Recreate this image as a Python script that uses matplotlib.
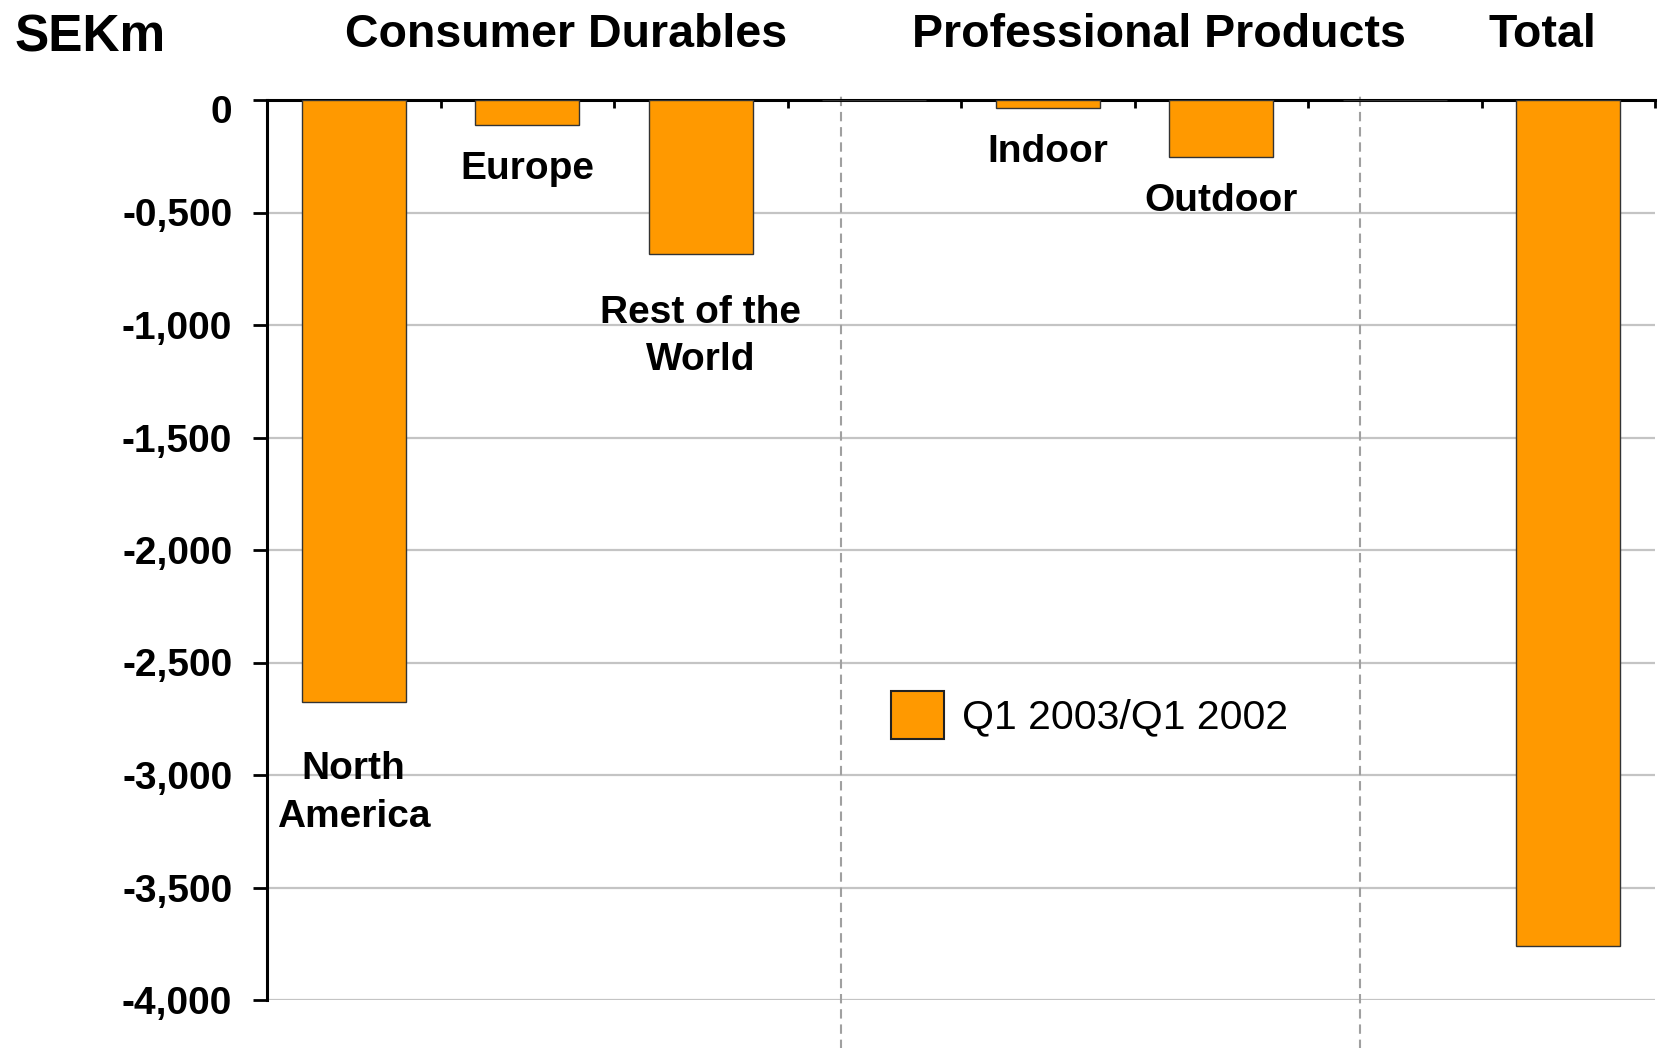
import matplotlib
matplotlib.use("Agg")
import matplotlib.pyplot as plt
from matplotlib.patches import Patch
from matplotlib.transforms import ScaledTranslation

plt.rcParams['font.family'] = ['Liberation Sans', 'DejaVu Sans']

# change in sales, Q1 2003 vs Q1 2002, SEKm
categories = ["North\nAmerica", "Europe", "Rest of the\nWorld", "",
              "Indoor", "Outdoor", "", "Total"]
values = [-2675, -110, -685, 0, -35, -255, 0, -3760]
yticks = [0, -500, -1000, -1500, -2000, -2500, -3000, -3500, -4000]
ytick_labels = ["0", "-0,500", "-1,000", "-1,500", "-2,000", "-2,500",
                "-3,000", "-3,500", "-4,000"]
groups = ["Consumer Durables", "Professional Products", "Total"]
series_name = "Q1 2003/Q1 2002"

ORANGE = "#FF9900"
px = 72 / 100  # points per pixel at dpi 100

fig = plt.figure(figsize=(16.61, 10.48), dpi=100)
ax = fig.add_axes([267 / 1661, 1 - 1000 / 1048, (1655 - 267) / 1661, 900 / 1048])

xs = list(range(len(categories)))
ax.bar(xs, values, width=0.6, color=ORANGE, edgecolor="#333333",
       linewidth=1.0, zorder=3)

ax.set_xlim(-0.5, len(categories) - 0.5)
ax.set_ylim(-4000, 0)

# axis styling: zero line on top, y axis on the left
for side in ("bottom", "right"):
    ax.spines[side].set_visible(False)
ax.spines["top"].set_linewidth(2.2)
ax.spines["left"].set_linewidth(2.2)

ax.set_yticks(yticks)
ax.set_yticklabels(ytick_labels, fontsize=28, fontweight="bold")
ax.tick_params(axis="y", direction="out", length=10, width=2, pad=15)
# the zero label sits a little lower than its tick
zero_label = ax.get_yticklabels()[0]
zero_label.set_transform(zero_label.get_transform()
                         + ScaledTranslation(0, -0.09, fig.dpi_scale_trans))

ax.xaxis.tick_top()
ax.set_xticks([x + 0.5 for x in xs])
ax.set_xticklabels([])
ax.tick_params(axis="x", direction="in", length=6, width=2)

for y in yticks[1:]:
    ax.axhline(y, color="#c4c4c4", linewidth=1.6, zorder=1)

# group separators run past the plot area
for xsep in (2.807, 5.80):
    ax.axvline(xsep, ymin=-0.06, ymax=1.008, clip_on=False, color="#a0a0a0",
               linewidth=1.5, dashes=(4.5, 2.8), zorder=2)

# category names below each bar (offset to the last line's baseline)
offsets = {"North\nAmerica": 125, "Rest of the\nWorld": 116}
for x, name, v in zip(xs, categories, values):
    if not name or name == "Total":
        continue
    off = offsets.get(name, 54)
    ax.annotate(name, (x, v), xytext=(0, -off * px), textcoords="offset points",
                ha="center", va="baseline", fontsize=28, fontweight="bold",
                linespacing=1.41, zorder=4)

# group headings and unit
fig.text(566.5 / 1661, 1 - 47 / 1048, groups[0], ha="center", va="baseline",
         fontsize=33.5, fontweight="bold")
fig.text(1158.5 / 1661, 1 - 47 / 1048, groups[1], ha="center", va="baseline",
         fontsize=33.5, fontweight="bold")
fig.text(1542 / 1661, 1 - 47 / 1048, groups[2], ha="center", va="baseline",
         fontsize=33.5, fontweight="bold")
fig.text(15 / 1661, 1 - 51 / 1048, "SEKm", ha="left", va="baseline",
         fontsize=37, fontweight="bold")

handle = Patch(facecolor=ORANGE, edgecolor="#222222", linewidth=1.5)
fig.legend([handle], [series_name], loc="center left",
           bbox_to_anchor=(891 / 1661, 1 - 715 / 1048), frameon=False,
           fontsize=29.5, handlelength=1.29, handleheight=1.46,
           handletextpad=0.45, borderpad=0, borderaxespad=0)

fig.savefig("out.png", dpi=100)
